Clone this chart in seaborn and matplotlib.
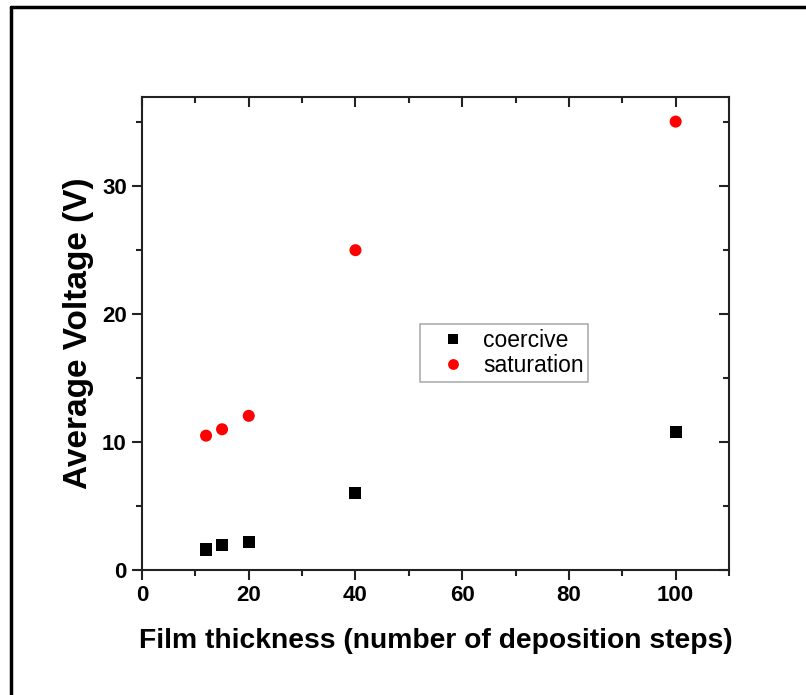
import matplotlib
matplotlib.use("Agg")
import matplotlib.pyplot as plt
from matplotlib.lines import Line2D
from matplotlib.ticker import MultipleLocator
import seaborn as sns
import pandas as pd

# Film thickness (number of deposition steps)
steps = [12, 15, 20, 40, 100]
# Average voltages (V)
coercive = [1.6, 1.95, 2.15, 6.0, 10.8]
saturation = [10.5, 11.0, 12.05, 25.0, 35.05]

df = pd.concat([
    pd.DataFrame({"steps": steps, "voltage": coercive, "kind": "coercive"}),
    pd.DataFrame({"steps": steps, "voltage": saturation, "kind": "saturation"}),
])

sns.set_theme(style="white")
plt.rcParams["font.family"] = ["Liberation Sans", "DejaVu Sans"]
plt.rcParams["text.color"] = "black"
plt.rcParams["axes.labelcolor"] = "black"
plt.rcParams["xtick.color"] = "black"
plt.rcParams["ytick.color"] = "black"

fig = plt.figure(figsize=(8.06, 6.95), dpi=100)
ax = fig.add_axes([0.1762, 0.1799, 0.9045 - 0.1762, 0.8609 - 0.1799])

sns.scatterplot(
    data=df, x="steps", y="voltage", hue="kind", style="kind",
    palette={"coercive": "black", "saturation": "red"},
    markers={"coercive": "s", "saturation": "o"},
    s=75, linewidth=0, ax=ax,
)

ax.set_xlim(0, 110)
ax.set_ylim(0, 37)
ax.xaxis.set_major_locator(MultipleLocator(20))
ax.xaxis.set_minor_locator(MultipleLocator(10))
ax.yaxis.set_major_locator(MultipleLocator(10))
ax.yaxis.set_minor_locator(MultipleLocator(5))

for sp in ax.spines.values():
    sp.set_visible(True)
    sp.set_color("#222222")
    sp.set_linewidth(1.5)

ax.tick_params(which="both", bottom=True, left=True, top=False, right=False,
               direction="out", color="#222222", width=1.5)
ax.tick_params(which="major", length=7, labelsize=16, pad=4)
ax.tick_params(which="minor", length=4)
for lab in ax.get_xticklabels() + ax.get_yticklabels():
    lab.set_fontweight("bold")

# inward ticks on the top and right edges
sec_x = ax.secondary_xaxis("top")
sec_x.xaxis.set_major_locator(MultipleLocator(20))
sec_x.xaxis.set_minor_locator(MultipleLocator(10))
sec_x.tick_params(which="both", direction="in", color="#222222", width=1.5, labeltop=False)
sec_x.tick_params(which="major", length=7)
sec_x.tick_params(which="minor", length=4)
sec_x.spines["top"].set_visible(False)
sec_y = ax.secondary_yaxis("right")
sec_y.yaxis.set_major_locator(MultipleLocator(10))
sec_y.yaxis.set_minor_locator(MultipleLocator(5))
sec_y.tick_params(which="both", direction="in", color="#222222", width=1.5, labelright=False)
sec_y.tick_params(which="major", length=7)
sec_y.tick_params(which="minor", length=4)
sec_y.spines["right"].set_visible(False)

ax.set_xlabel("Film thickness (number of deposition steps)", fontsize=20.3,
              fontweight="bold", labelpad=16)
ax.set_ylabel("Average Voltage (V)", fontsize=24, fontweight="bold", labelpad=5.5)

leg = ax.legend(loc="upper left", bbox_to_anchor=(0.4736, 0.5198), borderaxespad=0,
                frameon=True, fontsize=16.5, fancybox=False, edgecolor="#999999",
                handlelength=2.44, handletextpad=0.12, borderpad=0.2,
                labelspacing=0.12, markerscale=0.9)
leg.get_frame().set_linewidth(1.2)

# outer frame lines (top and left)
fig.add_artist(Line2D([0.0136, 1.0], [0.9899, 0.9899], transform=fig.transFigure,
                      color="black", linewidth=2.5))
fig.add_artist(Line2D([0.0136, 0.0136], [0.0, 0.9899], transform=fig.transFigure,
                      color="black", linewidth=2.5))

fig.savefig("out.png", dpi=100, facecolor="white")
